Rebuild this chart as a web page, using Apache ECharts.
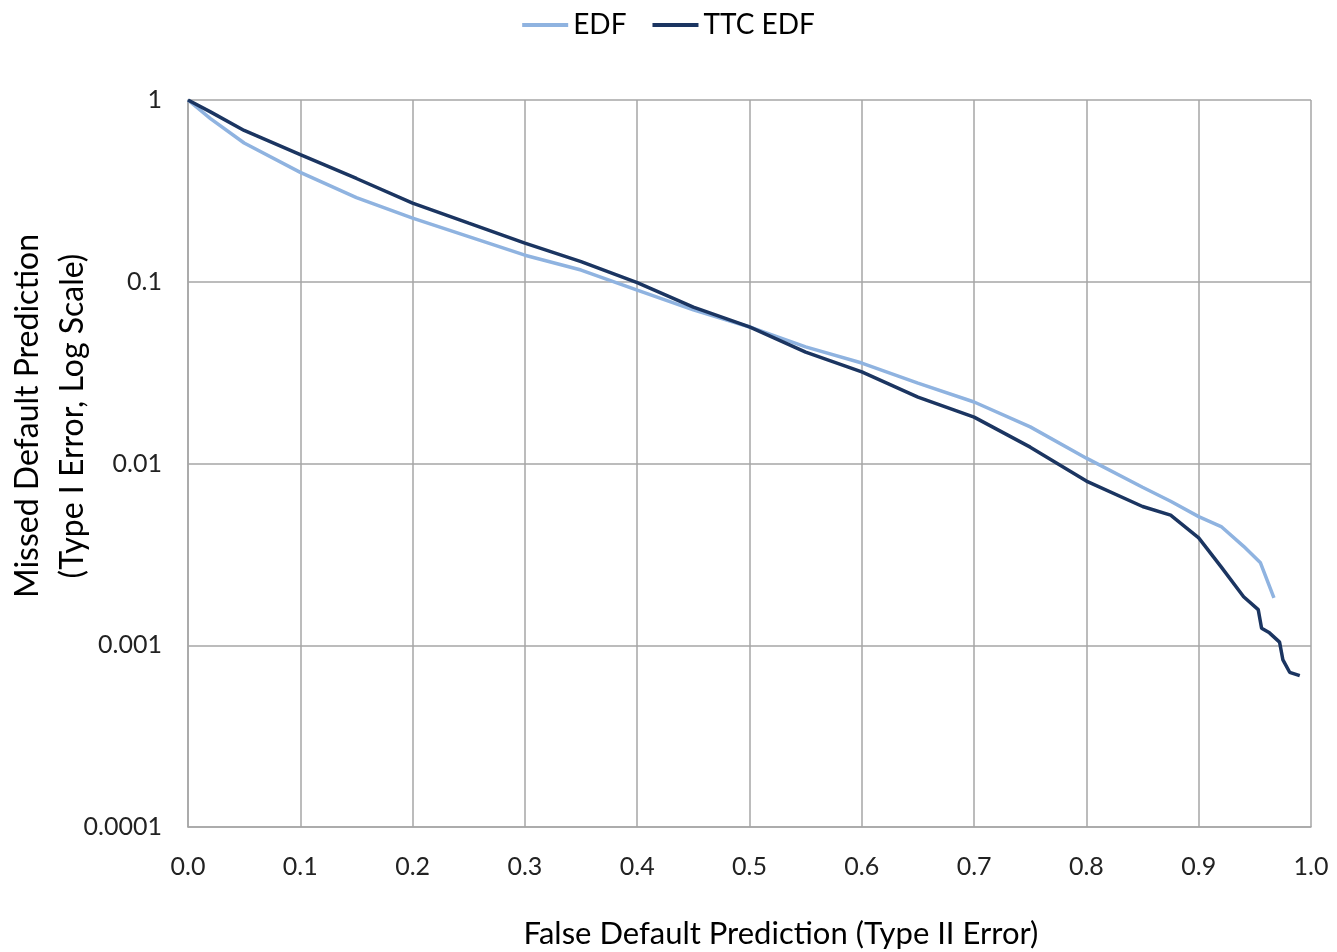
<!DOCTYPE html>
<html>
<head>
<meta charset="utf-8">
<script src="https://cdn.jsdelivr.net/npm/echarts@6/dist/echarts.min.js"></script>
<style>
  html, body { margin: 0; padding: 0; background: #fff; }
  #chart { width: 1337px; height: 952px; }
</style>
</head>
<body>
<div id="chart"></div>
<script>
// values
const edfX = [0, 0.02, 0.05, 0.1, 0.15, 0.2, 0.25, 0.3, 0.35, 0.4, 0.45, 0.5, 0.55, 0.6, 0.65, 0.7, 0.75, 0.8, 0.85, 0.875, 0.9, 0.92, 0.94, 0.955, 0.967];
const edfY = [1, 0.79, 0.58, 0.40, 0.29, 0.224, 0.177, 0.140, 0.116, 0.090, 0.070, 0.0564, 0.0438, 0.0357, 0.0277, 0.0218, 0.0159, 0.0107, 0.0074, 0.0062, 0.0051, 0.0045, 0.0035, 0.00284, 0.00182];

const ttcX = [0, 0.02, 0.05, 0.1, 0.15, 0.2, 0.25, 0.3, 0.35, 0.4, 0.45, 0.5, 0.55, 0.6, 0.65, 0.7, 0.75, 0.8, 0.85, 0.875, 0.9, 0.92, 0.94, 0.953, 0.956, 0.963, 0.972, 0.975, 0.981, 0.990];
const ttcY = [1, 0.86, 0.68, 0.50, 0.37, 0.271, 0.21, 0.163, 0.129, 0.099, 0.0726, 0.0564, 0.041, 0.0319, 0.0232, 0.018, 0.0123, 0.008, 0.0058, 0.0052, 0.0039, 0.0027, 0.00185, 0.00157, 0.00124, 0.00117, 0.00104, 0.00083, 0.00071, 0.00068];

const yTickLabels = { 1: '1', 0.1: '0.1', 0.01: '0.01', 0.001: '0.001', 0.0001: '0.0001' };

const pair = (xs, ys) => xs.map((x, i) => [x, ys[i]]);

const chart = echarts.init(document.getElementById('chart'), null, { renderer: 'canvas' });
const gridColor = '#a6a6a6';
const textFont = 'Lato';

chart.setOption({
    backgroundColor: '#fff',
    animation: false,
    grid: { left: 188, right: 26, top: 100, bottom: 125 },
    legend: {
        top: 6, left: 'center',
        itemWidth: 46, itemHeight: 4, itemGap: 26,
        icon: 'rect',
        textStyle: { fontFamily: textFont, fontSize: 28, color: '#000' },
        data: ['EDF', 'TTC EDF'],
    },
    xAxis: {
        type: 'value', min: 0, max: 1, interval: 0.1,
        axisLine: { lineStyle: { color: gridColor, width: 1.5 } },
        axisTick: { show: false },
        axisLabel: { fontFamily: textFont, fontSize: 25, color: '#222', margin: 27, formatter: v => v.toFixed(1) },
        splitLine: { show: true, lineStyle: { color: gridColor, width: 1.5 } },
    },
    yAxis: {
        type: 'log', logBase: 10, min: 0.0001, max: 1,
        axisLine: { show: true, lineStyle: { color: gridColor, width: 1.5 } },
        axisTick: { show: false },
        axisLabel: { fontFamily: textFont, fontSize: 25, color: '#222', margin: 26, formatter: v => yTickLabels[+v.toPrecision(3)] || '' },
        splitLine: { show: true, lineStyle: { color: gridColor, width: 1.5 } },
    },
    graphic: [
        {
            type: 'text', x: 50, y: 416, rotation: Math.PI / 2,
            style: {
                text: 'Missed Default Prediction\n(Type I Error, Log Scale)',
                font: '32px ' + textFont, fill: '#000', align: 'center', verticalAlign: 'middle', lineHeight: 45,
            },
        },
        {
            type: 'text', x: 781, y: 934,
            style: {
                text: 'False Default Prediction (Type II Error)',
                font: '31px ' + textFont, fill: '#000', align: 'center', verticalAlign: 'middle',
            },
        },
    ],
    series: [
        {
            name: 'EDF', type: 'line', showSymbol: false, symbol: 'none',
            lineStyle: { width: 3.5, color: '#8fb3e0' }, itemStyle: { color: '#8fb3e0' },
            data: pair(edfX, edfY),
        },
        {
            name: 'TTC EDF', type: 'line', showSymbol: false, symbol: 'none',
            lineStyle: { width: 3.5, color: '#1b3561' }, itemStyle: { color: '#1b3561' },
            data: pair(ttcX, ttcY),
        },
    ],
});
</script>
</body>
</html>
